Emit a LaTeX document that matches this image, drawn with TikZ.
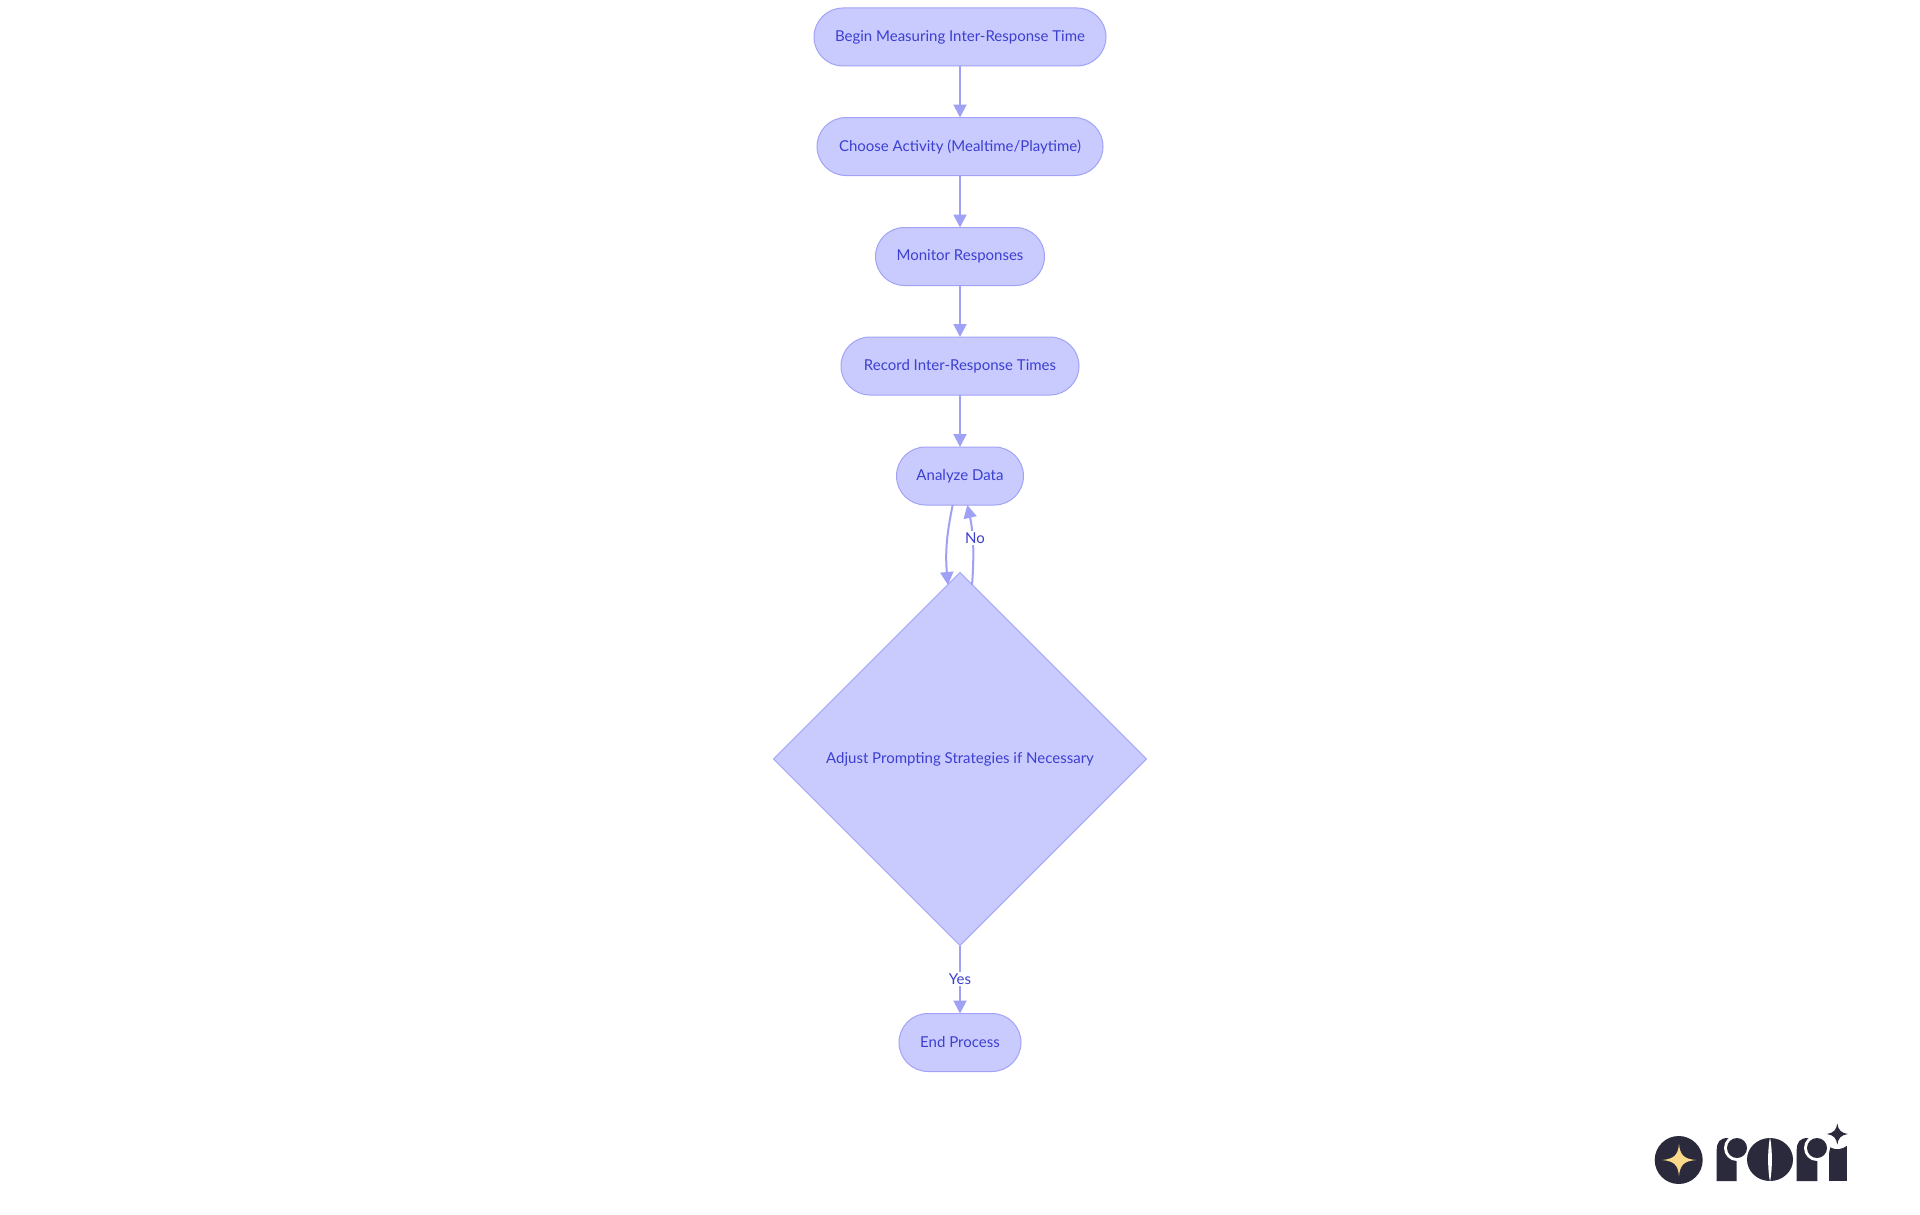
\documentclass[tikz,border=0pt]{standalone}
\usepackage{fontspec}
\setmainfont{Lato}
\usetikzlibrary{shapes.geometric,arrows.meta}
\definecolor{nodefill}{HTML}{C9CBFF}
\definecolor{nodeline}{HTML}{A2A3F6}
\definecolor{edgeline}{HTML}{9FA1F5}
\definecolor{inktext}{HTML}{3C3FD0}
\definecolor{logodark}{HTML}{2A2A3C}
\definecolor{logostar}{HTML}{FBD98B}
\tikzset{
  labelfont/.style={text=inktext,font=\fontsize{15}{18}\selectfont},
  pill/.style={draw=nodeline,fill=nodefill,line width=1pt,rounded corners=29pt,minimum height=58pt,inner sep=0pt,outer sep=0pt,labelfont},
  decision/.style={diamond,aspect=1,draw=nodeline,fill=nodefill,line width=1pt,minimum width=373pt,minimum height=373pt,inner sep=0pt,outer sep=0pt,labelfont},
  flow/.style={draw=edgeline,line width=2pt,-{Triangle[length=13pt,width=13pt]}},
  edgelabel/.style={fill=white,inner sep=1.5pt,labelfont},
  logoshape/.style={fill=logodark,draw=none}
}
\begin{document}
\begin{tikzpicture}[x=1pt,y=-1pt]
\useasboundingbox (0,0) rectangle (1920,1215);
\fill[white] (0,0) rectangle (1920,1215);
\node[pill,minimum width=292pt] (begin) at (960,37) {\raisebox{1pt}{Begin Measuring Inter-Response Time}};
\node[pill,minimum width=286pt] (choose) at (960,146.5) {\raisebox{1pt}{Choose Activity (Mealtime/Playtime)}};
\node[pill,minimum width=169pt] (monitor) at (960,256.5) {\raisebox{1pt}{Monitor Responses}};
\node[pill,minimum width=238pt] (record) at (960,366) {\raisebox{1pt}{Record Inter-Response Times}};
\node[pill,minimum width=127pt] (analyze) at (960,476) {\raisebox{1pt}{Analyze Data}};
\node[decision] (adjust) at (960,759) {Adjust Prompting Strategies if Necessary};
\node[pill,minimum width=122pt] (finish) at (960,1042.5) {\raisebox{1pt}{End Process}};
\draw[flow] (begin) -- (choose);
\draw[flow] (choose) -- (monitor);
\draw[flow] (monitor) -- (record);
\draw[flow] (record) -- (analyze);
\coordinate (outA) at (952.7,505);
\coordinate (inD) at (948,585);
\coordinate (outD) at (972,585);
\coordinate (inA) at (967.3,505);
\draw[flow] (outA) .. controls (947,532) and (945,552) .. (inD);
\draw[flow] (outD) .. controls (974,560) and (974,535) .. (inA);
\node[edgelabel] (nolabel) at (975,538) {No};
\draw[flow] (adjust) -- (finish);
\node[edgelabel] (yeslabel) at (960,979) {Yes};
% logo: badge
\fill[logodark] (1678.7,1160) circle (24);
\fill[logostar] (1679,1144) .. controls (1680,1155) and (1684,1159) .. (1696,1160)
  .. controls (1684,1161) and (1680,1165) .. (1679,1176)
  .. controls (1678,1165) and (1674,1161) .. (1662,1160)
  .. controls (1674,1159) and (1678,1155) .. (1679,1144) -- cycle;
% logo: first r
\fill[logoshape] (1716.7,1181) -- (1716.7,1150) .. controls (1716.7,1142) and (1720,1138) .. (1728,1138) -- (1736.7,1138) -- (1736.7,1181) -- cycle;
\fill[white] (1737,1148) circle (13);
\fill[logoshape] (1737,1148) circle (10);
% logo: o
\fill[logoshape] (1770,1159.5) ellipse (23 and 21.5);
\fill[white] (1770,1137) .. controls (1767.5,1150) and (1767.5,1169) .. (1770,1182)
  .. controls (1772.5,1169) and (1772.5,1150) .. (1770,1137) -- cycle;
% logo: second r
\fill[logoshape] (1796.7,1181) -- (1796.7,1150) .. controls (1796.7,1142) and (1800,1138) .. (1808,1138) -- (1817.3,1138) -- (1817.3,1181) -- cycle;
% logo: i
\fill[logoshape] (1829,1143) rectangle (1846.7,1181);
\fill[white] (1837.3,1134) circle (15);
\fill[white] (1817,1148) circle (13);
\fill[logoshape] (1817,1148) circle (10);
\fill[logoshape] (1837.3,1123.5) .. controls (1838.3,1130) and (1841,1133) .. (1847.8,1134)
  .. controls (1841,1135) and (1838.3,1138) .. (1837.3,1144.5)
  .. controls (1836.3,1138) and (1833.6,1135) .. (1826.8,1134)
  .. controls (1833.6,1133) and (1836.3,1130) .. (1837.3,1123.5) -- cycle;
\end{tikzpicture}
\end{document}
